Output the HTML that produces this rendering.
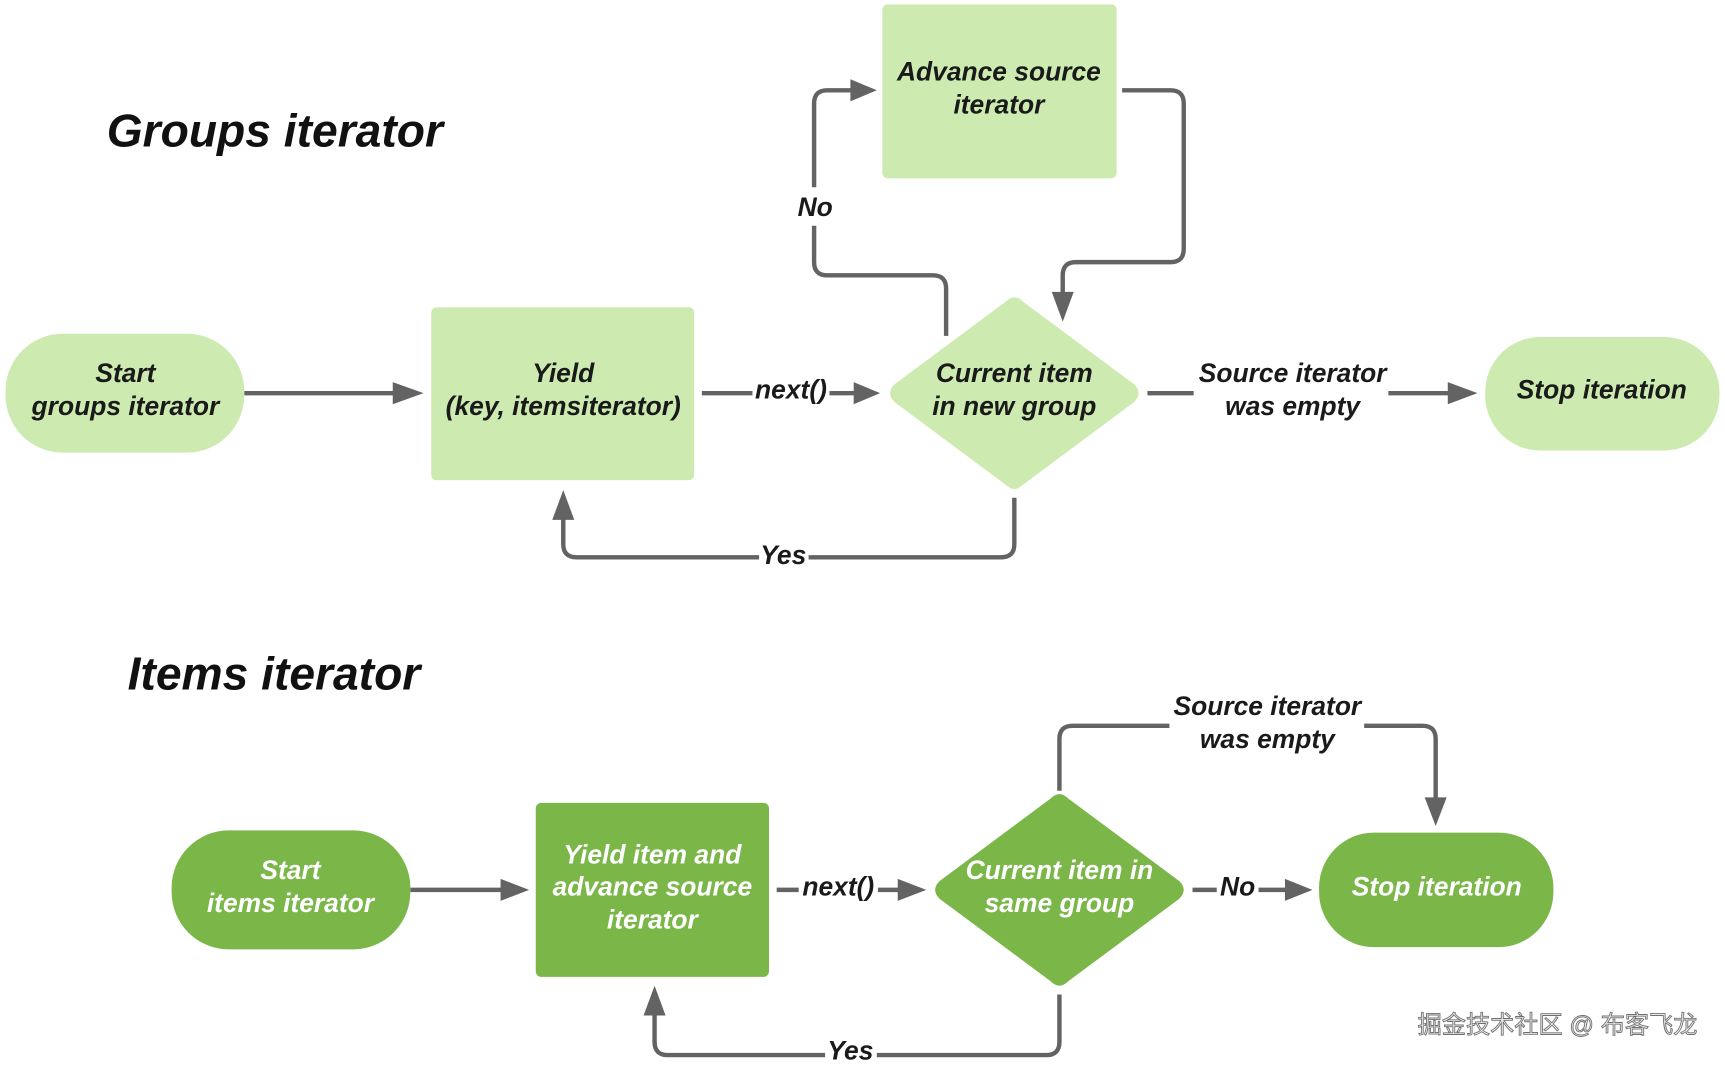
<!DOCTYPE html>
<html><head><meta charset="utf-8"><style>
html,body{margin:0;padding:0;background:#fff;}
svg{display:block;}
text{font-family:"Liberation Sans","Noto Sans CJK SC",sans-serif;font-weight:bold;font-style:italic;}
</style></head><body>
<svg width="1725" height="1065" viewBox="0 0 1568 967" preserveAspectRatio="none" xmlns="http://www.w3.org/2000/svg">
<g fill="none" stroke="#636363" stroke-width="4" stroke-linejoin="round">
<path d="M222 357 H360"/>
<path d="M638 357 H684"/><path d="M754 357 H778"/>
<path d="M860 305 V262 Q860 250 848 250 H752 Q740 250 740 238 V205"/>
<path d="M740 170 V94 Q740 82 752 82 H775"/>
<path d="M1020 82 H1064 Q1076 82 1076 94 V226 Q1076 238 1064 238 H978 Q966 238 966 250 V268"/>
<path d="M922 452 V494 Q922 506 910 506 H735"/><path d="M690 506 H524 Q512 506 512 494 V470"/>
<path d="M1043 357 H1085"/><path d="M1262 357 H1320"/>
<path d="M373 808 H458"/>
<path d="M706 808 H726"/><path d="M798 808 H820"/>
<path d="M963 718 V671 Q963 659 975 659 H1063"/><path d="M1240 659 H1293 Q1305 659 1305 671 V728"/>
<path d="M1084 808 H1106"/><path d="M1144 808 H1172"/>
<path d="M963 903 V946 Q963 958 951 958 H797"/><path d="M750 958 H607 Q595 958 595 946 V920"/>
</g>
<g fill="#636363">
<polygon points="385,357 357,347 357,367"/>
<polygon points="800,357 776,347 776,367"/>
<polygon points="797,82 773,72 773,92"/>
<polygon points="966,292 956,265 976,265"/>
<polygon points="512,445 502,472 522,472"/>
<polygon points="1343,357 1316,347 1316,367"/>
<polygon points="481,808 455,798 455,818"/>
<polygon points="842,808 816,798 816,818"/>
<polygon points="1305,750 1295,724 1315,724"/>
<polygon points="1193,808 1168,798 1168,818"/>
<polygon points="595,895 585,922 605,922"/>
</g>
<g fill="#cdebb0">
<rect x="5" y="303" width="217" height="108" rx="52"/>
<rect x="392" y="279" width="239" height="157" rx="5"/>
<rect x="802" y="4" width="213" height="158" rx="5"/>
<path d="M914 274 Q922 266 930 274 L1031 349 Q1039 357 1031 365 L930 440 Q922 448 914 440 L813 365 Q805 357 813 349 Z"/>
<rect x="1350" y="306" width="213" height="103" rx="50"/>
</g>
<g fill="#7ab648">
<rect x="156" y="754" width="217" height="108" rx="52"/>
<rect x="487" y="729" width="212" height="158" rx="5"/>
<path d="M955 725 Q963 717 971 725 L1072 800 Q1080 808 1072 816 L971 891 Q963 899 955 891 L854 816 Q846 808 854 800 Z"/>
<rect x="1199" y="756" width="213" height="104" rx="50"/>
</g>
<g font-size="42" fill="#111">
<text x="97" y="133">Groups iterator</text>
<text x="116" y="626">Items iterator</text>
</g>
<g font-size="24" fill="#1a1a1a" text-anchor="middle">
<text x="114" y="347">Start</text><text x="114" y="377">groups iterator</text>
<text x="512" y="347">Yield</text><text x="512" y="377">(key, itemsiterator)</text>
<text x="908" y="73">Advance source</text><text x="908" y="103">iterator</text>
<text x="922" y="347">Current item</text><text x="922" y="377">in new group</text>
<text x="1456" y="362">Stop iteration</text>
<text x="719" y="362">next()</text>
<text x="741" y="196">No</text>
<text x="712" y="512">Yes</text>
<text x="1175" y="347">Source iterator</text><text x="1175" y="377">was empty</text>
<text x="762" y="813">next()</text>
<text x="1125" y="813">No</text>
<text x="773" y="962">Yes</text>
<text x="1152" y="649">Source iterator</text><text x="1152" y="679">was empty</text>
</g>
<g font-size="24" fill="#ffffff" text-anchor="middle">
<text x="264" y="798">Start</text><text x="264" y="828">items iterator</text>
<text x="593" y="784">Yield item and</text><text x="593" y="813">advance source</text><text x="593" y="843">iterator</text>
<text x="963" y="798">Current item in</text><text x="963" y="828">same group</text>
<text x="1306" y="813">Stop iteration</text>
</g>
<text x="1543" y="938" font-size="22" style="font-style:normal;font-weight:normal" fill="#ececec" stroke="#707070" stroke-width="0.8" text-anchor="end">掘金技术社区 @ 布客飞龙</text>
</svg>
</body></html>
